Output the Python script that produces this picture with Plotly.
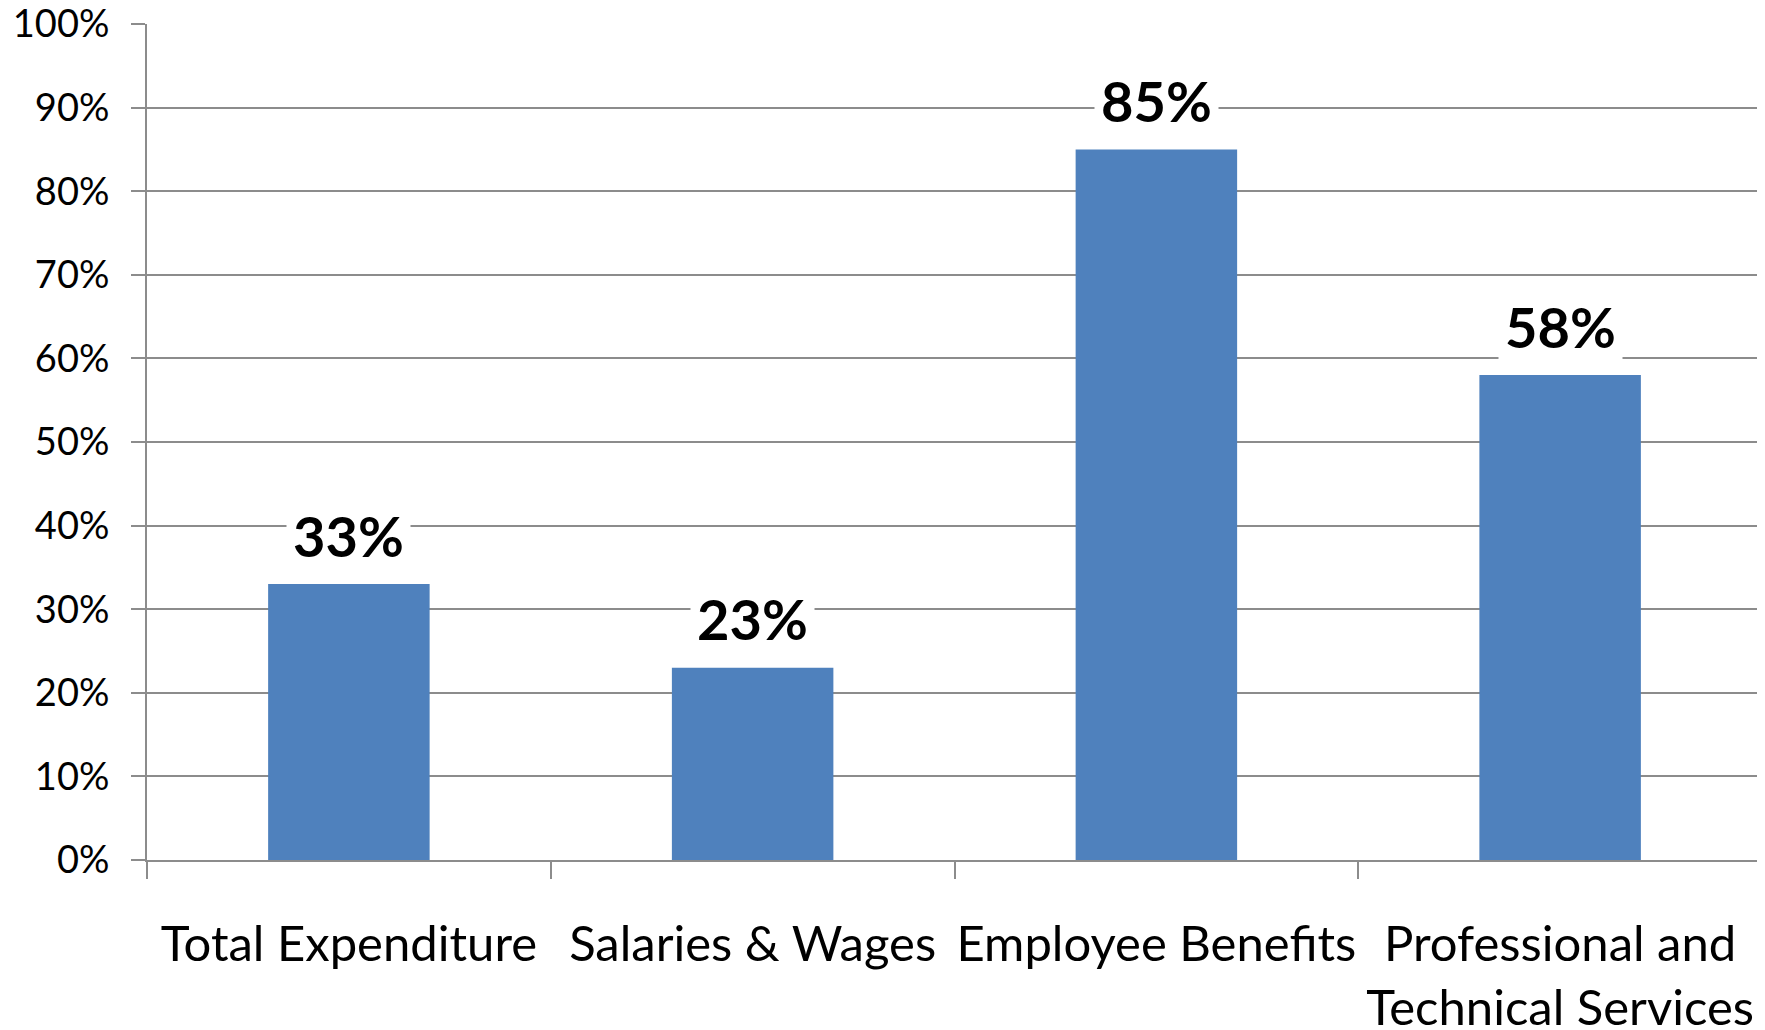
import plotly.graph_objects as go

categories = ["Total Expenditure", "Salaries & Wages", "Employee Benefits",
              "Professional and<br>Technical Services"]
values = [0.33, 0.23, 0.85, 0.58]
value_labels = ["33%", "23%", "85%", "58%"]

BAR = "#4F81BD"
GRID = "#8C8C8C"
FONT = "Lato, Calibri, Carlito, sans-serif"

fig = go.Figure(go.Bar(x=categories, y=values, marker=dict(color=BAR, line=dict(width=0)),
                       width=0.4, hoverinfo="skip"))

for c, v, t in zip(categories, values, value_labels):
    fig.add_annotation(x=c, y=v, text="<b>%s</b>" % t, showarrow=False,
                       yanchor="middle", yshift=49, bgcolor="white", borderpad=6,
                       font=dict(family=FONT, size=56, color="black"))

# page body has an 8px default margin, so the figure is sized to fit the window
fig.update_layout(
    width=1757, height=1022,
    margin=dict(l=139, r=3, t=16, b=170, autoexpand=False),
    paper_bgcolor="white", plot_bgcolor="white",
    showlegend=False,
    font=dict(family=FONT, color="black"),
)
fig.update_yaxes(range=[0, 1], dtick=0.1, tickformat=".0%", showgrid=True,
                 gridcolor=GRID, gridwidth=2, showline=True, linecolor=GRID, linewidth=2,
                 ticks="outside", ticklen=14, tickcolor=GRID, tickwidth=2,
                 tickfont=dict(family=FONT, size=38, color="black"),
                 zeroline=False, ticklabelstandoff=14, automargin=False,
                 ticklabeloverflow="allow")
fig.update_xaxes(showline=True, linecolor=GRID, linewidth=2, ticks="outside",
                 tickson="boundaries", ticklen=17, tickcolor=GRID, tickwidth=2,
                 tickfont=dict(family=FONT, size=49, color="black"), tickangle=0,
                 ticklabelstandoff=40, showgrid=False, automargin=False,
                 ticklabeloverflow="allow")

fig.write_html("out.html")
